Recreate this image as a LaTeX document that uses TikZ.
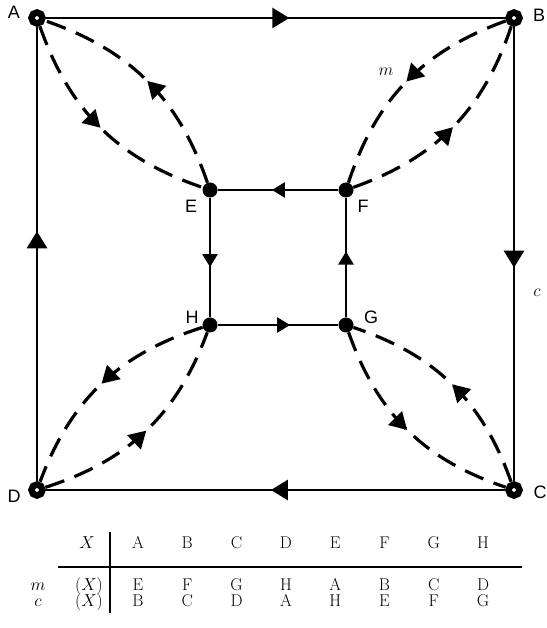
\documentclass[tikz,border=0pt]{standalone}
\usepackage{fontspec}
\newfontfamily\labelfont{Liberation Sans}
\usetikzlibrary{arrows.meta,decorations.markings}

\tikzset{
  ring/.style={circle, draw=black, line width=6.5pt, fill=white, inner sep=0pt, minimum size=11pt},
  dot/.style={circle, fill=black, inner sep=0pt, minimum size=15pt},
  lbl/.style={font=\labelfont\fontsize{18}{21}\selectfont},
  tab/.style={font=\fontsize{17}{20}\selectfont, inner sep=0pt},
  outerline/.style={line width=2.8pt, postaction={decorate}, decoration={markings,
      mark=at position #1 with {\arrow{Triangle[length=17pt,width=20pt]}}}},
  outerline/.default=0.5,
  innerline/.style={line width=2.6pt, postaction={decorate}, decoration={markings,
      mark=at position #1 with {\arrow{Triangle[length=13pt,width=15pt]}}}},
  innerline/.default=0.5,
  mapline/.style={line width=3.2pt, dash pattern=on 20pt off 11pt,
      postaction={decorate}, decoration={markings,
      mark=at position 0.5 with {\arrow{Triangle[length=17pt,width=19pt]}}}}
}

\begin{document}
\begin{tikzpicture}[x=1pt,y=1pt]
    \useasboundingbox (0,0) rectangle (546,628);

    % outer square
    \node[ring] (A) at (37,610) {};
    \node[ring] (B) at (514,610) {};
    \node[ring] (C) at (514,138) {};
    \node[ring] (D) at (37,138) {};
    % inner square
    \node[dot] (E) at (210,438) {};
    \node[dot] (F) at (346,438) {};
    \node[dot] (G) at (346,303) {};
    \node[dot] (H) at (210,303) {};

    % point labels
    \node[lbl] (lA) at (14,616) {A};
    \node[lbl] (lB) at (539,613) {B};
    \node[lbl] (lC) at (540,136) {C};
    \node[lbl] (lD) at (14,132) {D};
    \node[lbl] (lE) at (191,422) {E};
    \node[lbl] (lF) at (363,422) {F};
    \node[lbl] (lG) at (371,311) {G};
    \node[lbl] (lH) at (192,311) {H};

    % the map c
    \draw[outerline=0.53] (A) -- (B);
    \draw[outerline=0.53] (B) -- (C);
    \draw[outerline=0.51] (C) -- (D);
    \draw[outerline=0.55] (D) -- (A);
    \draw[innerline=0.55] (F) -- (E);
    \draw[innerline=0.58] (E) -- (H);
    \draw[innerline=0.6] (H) -- (G);
    \draw[innerline=0.55] (G) -- (F);

    % the map m (dashed)
    \foreach \s/\t in {A/E,E/A,B/F,F/B,C/G,G/C,D/H,H/D} {
        \draw[mapline] (\s) to[bend right=26] (\t);
    }
    \node[font=\fontsize{19}{22}\selectfont] (lm) at (386,556) {$m$};
    \node[font=\fontsize{19}{22}\selectfont] (lc) at (537,335) {$c$};

    % table of m and c
    \node[tab, anchor=base] (hX) at (87,79) {$X$};
    \node[tab, anchor=base] (rm) at (38,37) {$m$};
    \node[tab, anchor=base] (rc) at (38,21) {$c$};
    \node[tab, anchor=base east] (rmX) at (103,37) {$(X)$};
    \node[tab, anchor=base east] (rcX) at (103,21) {$(X)$};
    \foreach \x/\m/\c [count=\i from 0] in {A/E/B,B/F/C,C/G/D,D/H/A,E/A/H,F/B/E,G/C/F,H/D/G} {
        \node[tab, anchor=base] (h\i) at (138+49.3*\i,79) {\x};
        \node[tab, anchor=base] (m\i) at (138+49.3*\i,37) {\m};
        \node[tab, anchor=base] (c\i) at (138+49.3*\i,21) {\c};
    }
    \draw[line width=1.1pt] (110,96) -- (110,15);
    \draw[line width=1.1pt] (58,61) -- (522,61);
\end{tikzpicture}
\end{document}
